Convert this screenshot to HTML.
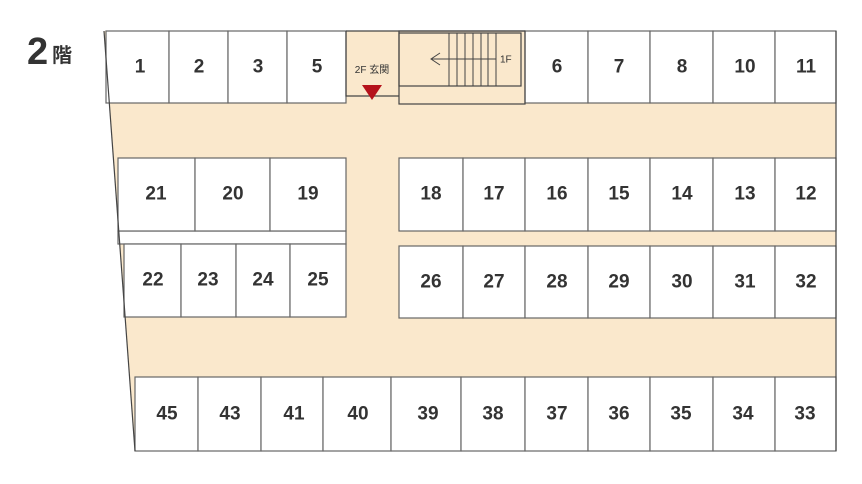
<!DOCTYPE html>
<html><head><meta charset="utf-8"><style>
html,body{margin:0;padding:0;background:#fff;width:862px;height:484px;overflow:hidden}
svg text{font-family:"Liberation Sans","Noto Sans CJK JP",sans-serif;fill:#333}
svg text.n{font-family:"Liberation Sans Narrow","Liberation Sans",sans-serif;font-size:19px;font-weight:bold;text-anchor:middle;dominant-baseline:central}
</style></head><body>
<svg width="862" height="484" viewBox="0 0 862 484" xmlns="http://www.w3.org/2000/svg">
<text x="27" y="64" style="font-family:'Liberation Sans Narrow','Liberation Sans',sans-serif;font-size:38px;font-weight:bold">2</text>
<text x="52" y="62" style="font-size:20px;font-weight:bold">階</text>
<polygon points="104,31 836,31 836,451 135,451" fill="#fae8cc"/>
<g fill="#fff" stroke="#666" stroke-width="1.2">
<rect x="106" y="31" width="63" height="72"/><rect x="169" y="31" width="59" height="72"/>
<rect x="228" y="31" width="59" height="72"/><rect x="287" y="31" width="59" height="72"/>
<rect x="525" y="31" width="63" height="72"/><rect x="588" y="31" width="62" height="72"/>
<rect x="650" y="31" width="63" height="72"/><rect x="713" y="31" width="62" height="72"/>
<rect x="775" y="31" width="61" height="72"/>
<rect x="118" y="231" width="228" height="13"/>
<rect x="118" y="158" width="77" height="73"/><rect x="195" y="158" width="75" height="73"/><rect x="270" y="158" width="76" height="73"/>
<rect x="124" y="244" width="57" height="73"/><rect x="181" y="244" width="55" height="73"/><rect x="236" y="244" width="54" height="73"/><rect x="290" y="244" width="56" height="73"/>
<rect x="399" y="158" width="64" height="73"/><rect x="463" y="158" width="62" height="73"/><rect x="525" y="158" width="63" height="73"/><rect x="588" y="158" width="62" height="73"/><rect x="650" y="158" width="63" height="73"/><rect x="713" y="158" width="62" height="73"/><rect x="775" y="158" width="61" height="73"/>
<rect x="399" y="246" width="64" height="72"/><rect x="463" y="246" width="62" height="72"/><rect x="525" y="246" width="63" height="72"/><rect x="588" y="246" width="62" height="72"/><rect x="650" y="246" width="63" height="72"/><rect x="713" y="246" width="62" height="72"/><rect x="775" y="246" width="61" height="72"/>
<rect x="135" y="377" width="63" height="74"/><rect x="198" y="377" width="63" height="74"/><rect x="261" y="377" width="62" height="74"/><rect x="323" y="377" width="68" height="74"/><rect x="391" y="377" width="70" height="74"/><rect x="461" y="377" width="64" height="74"/><rect x="525" y="377" width="63" height="74"/><rect x="588" y="377" width="62" height="74"/><rect x="650" y="377" width="63" height="74"/><rect x="713" y="377" width="62" height="74"/><rect x="775" y="377" width="61" height="74"/>
</g>
<g fill="none" stroke="#444" stroke-width="1.2">
<polyline points="346,31 346,96 399,96"/>
<rect x="399" y="31" width="126" height="73"/>
<rect x="399" y="33" width="122" height="53"/>
<line x1="346" y1="31" x2="525" y2="31"/>
<line x1="836" y1="31" x2="836" y2="451"/>
<line x1="104" y1="31" x2="135" y2="451"/>
<g stroke-width="1">
<line x1="449" y1="33" x2="449" y2="86"/><line x1="457" y1="33" x2="457" y2="86"/><line x1="465" y1="33" x2="465" y2="86"/><line x1="473" y1="33" x2="473" y2="86"/><line x1="481" y1="33" x2="481" y2="86"/><line x1="488" y1="33" x2="488" y2="86"/><line x1="496" y1="33" x2="496" y2="86"/>
<line x1="431" y1="59" x2="496" y2="59"/>
<polyline points="440,53 431,59 440,65"/>
</g>
</g>
<text x="500" y="60" style="font-size:10px;dominant-baseline:central">1F</text>
<text x="372" y="73" style="font-size:10px;text-anchor:middle">2F 玄関</text>
<polygon points="362,85 382,85 372,100" fill="#b5121b"/>
<g>
<text class="n" x="140" y="67">1</text><text class="n" x="199" y="67">2</text><text class="n" x="258" y="67">3</text><text class="n" x="317" y="67">5</text>
<text class="n" x="557" y="67">6</text><text class="n" x="619" y="67">7</text><text class="n" x="682" y="67">8</text><text class="n" x="745" y="67">10</text><text class="n" x="806" y="67">11</text>
<text class="n" x="156" y="194">21</text><text class="n" x="233" y="194">20</text><text class="n" x="308" y="194">19</text>
<text class="n" x="431" y="194">18</text><text class="n" x="494" y="194">17</text><text class="n" x="557" y="194">16</text><text class="n" x="619" y="194">15</text><text class="n" x="682" y="194">14</text><text class="n" x="745" y="194">13</text><text class="n" x="806" y="194">12</text>
<text class="n" x="153" y="280">22</text><text class="n" x="208" y="280">23</text><text class="n" x="263" y="280">24</text><text class="n" x="318" y="280">25</text>
<text class="n" x="431" y="282">26</text><text class="n" x="494" y="282">27</text><text class="n" x="557" y="282">28</text><text class="n" x="619" y="282">29</text><text class="n" x="682" y="282">30</text><text class="n" x="745" y="282">31</text><text class="n" x="806" y="282">32</text>
<text class="n" x="167" y="414">45</text><text class="n" x="230" y="414">43</text><text class="n" x="294" y="414">41</text><text class="n" x="358" y="414">40</text><text class="n" x="428" y="414">39</text><text class="n" x="493" y="414">38</text><text class="n" x="557" y="414">37</text><text class="n" x="619" y="414">36</text><text class="n" x="681" y="414">35</text><text class="n" x="743" y="414">34</text><text class="n" x="805" y="414">33</text>
</g>
</svg>
</body></html>
